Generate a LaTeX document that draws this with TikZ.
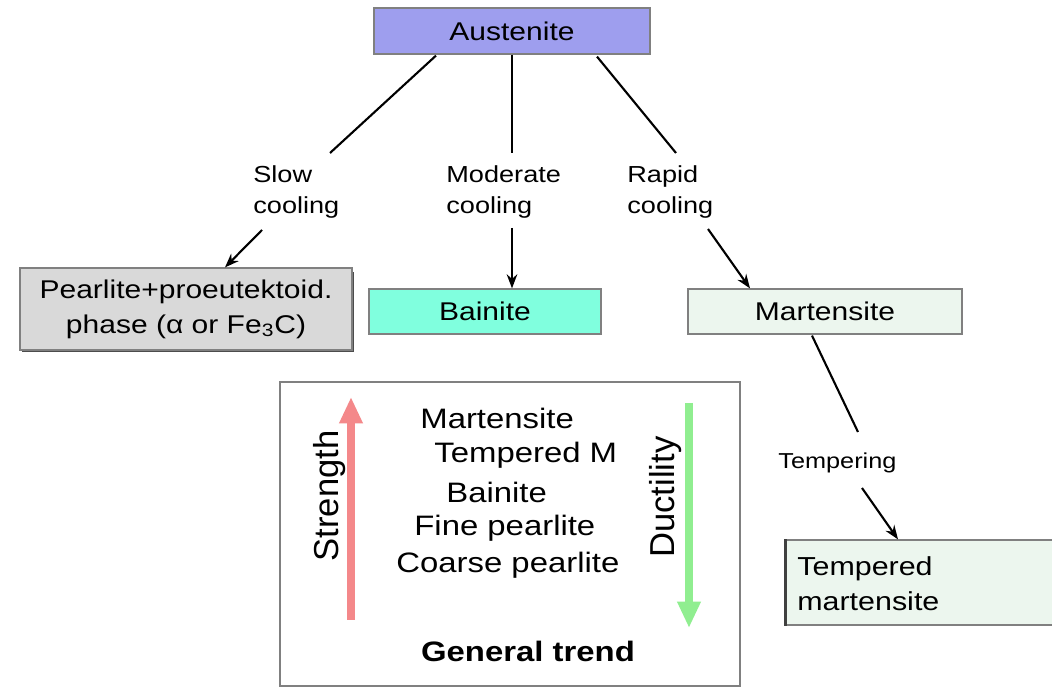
\documentclass[tikz,border=0pt]{standalone}
\usepackage{fontspec}
\setmainfont{Liberation Sans}[FakeStretch=1.17]
\newfontfamily\rotfont{Liberation Sans}
\usetikzlibrary{arrows.meta,calc}
\definecolor{ausfill}{RGB}{158,158,238}
\definecolor{pearfill}{RGB}{217,217,217}
\definecolor{bainfill}{RGB}{128,255,222}
\definecolor{martfill}{RGB}{236,246,238}
\definecolor{edgegray}{RGB}{128,128,128}
\definecolor{strred}{RGB}{244,136,138}
\definecolor{ductgreen}{RGB}{144,238,144}
\tikzset{
  box/.style={draw=edgegray, line width=0.7pt, inner sep=0pt},
  boxtext/.style={font=\fontsize{14.6}{19.8}\selectfont, align=center},
  lbl/.style={font=\fontsize{13.2}{17.6}\selectfont, align=left, inner sep=0pt},
  trend/.style={font=\fontsize{16}{20}\selectfont, anchor=west, inner sep=0pt},
  conn/.style={line width=1.2pt, black},
  arr/.style={line width=1.2pt, black, -{Stealth[length=8pt,width=6pt]}},
  fat/.style={line width=4.6pt, -{Triangle[length=15pt,width=12.5pt]}},
  rot/.style={rotate=90, font=\rotfont\fontsize{19.7}{22}\selectfont, inner sep=0pt}
}
\begin{document}
\begin{tikzpicture}[x=0.02cm,y=-0.02cm]
\useasboundingbox (0,0) rectangle (1052,688);
\clip (0,0) rectangle (1052,688);

% boxes
\node[box, boxtext, fill=ausfill, minimum width=5.52cm, minimum height=0.92cm] (aus) at (512,31) {Austenite};
\fill[black!70] (22,272) rectangle (354,352);
\node[box, boxtext, fill=pearfill, minimum width=6.64cm, minimum height=1.64cm] (pear) at (186,309) {Pearlite+proeutektoid.\\phase (α or Fe\textsubscript{3}C)};
\node[box, boxtext, fill=bainfill, minimum width=4.64cm, minimum height=0.90cm] (bain) at (485,311.5) {Bainite};
\node[box, boxtext, fill=martfill, minimum width=5.48cm, minimum height=0.90cm] (mart) at (825,311.5) {Martensite};
\node[box, fill=martfill, minimum width=5.68cm, minimum height=1.70cm] (tmart) at (928,582.5) {};
\draw[black!75, line width=1.4pt] (tmart.north west) -- (tmart.south west);
\node[font=\fontsize{14.8}{19.8}\selectfont, align=left, anchor=west, inner sep=0pt] (tmtext) at (797,584) {Tempered\\martensite};

% labels
\node[lbl, anchor=west] (slow) at (253,192) {Slow\\cooling};
\node[lbl, anchor=west] (mod) at (446,192) {Moderate\\cooling};
\node[lbl, anchor=west] (rapid) at (627,192) {Rapid\\cooling};
\node[lbl, anchor=west, font=\fontsize{12.3}{15}\selectfont] (temp) at (778,463) {Tempering};

% connectors
\coordinate (s1) at (330,153);
\coordinate (s2) at (262,230);
\coordinate (m1) at (512,153);
\coordinate (m2) at (512,228);
\coordinate (r1) at (676,153);
\coordinate (r2) at (708,229);
\coordinate (t1) at (858,432);
\coordinate (t2) at (862,488);
\draw[conn] ($(aus.south)+(-76,1)$) -- (s1);
\draw[arr] (s2) -- ($(pear.north)+(39,0)$);
\draw[conn] (aus.south) -- (m1);
\draw[arr] (m2) -- (bain.north -| m2);
\draw[conn] ($(aus.south)+(85,2)$) -- (r1);
\draw[arr] (r2) -- ($(mart.north)+(-75,0)$);
\draw[conn] ($(mart.south)+(-13,1)$) -- (t1);
\draw[arr] (t2) -- ($(tmart.north)+(-30,0)$);

% trend box
\node[draw=edgegray, line width=0.7pt, fill=white, minimum width=9.2cm, minimum height=6.08cm] (tbox) at (510,534) {};
\coordinate (sb) at (351,620);
\coordinate (st) at (351,397);
\coordinate (dt) at (689,403);
\coordinate (db) at (689,628);
\node[rot] (str) at (330,496) {Strength};
\node[rot] (duc) at (666,497) {Ductility};
\draw[fat, strred] (sb) -- (st);
\draw[fat, ductgreen] (dt) -- (db);
\node[trend] (l1) at (420,418) {Martensite};
\node[trend] (l2) at (434,455) {Tempered M};
\node[trend] (l3) at (446,492) {Bainite};
\node[trend] (l4) at (414,528) {Fine pearlite};
\node[trend] (l5) at (396,565) {Coarse pearlite};
\node[font=\bfseries\fontsize{16}{20}\selectfont, inner sep=0pt] (gt) at (528,651) {General trend};
\end{tikzpicture}
\end{document}
